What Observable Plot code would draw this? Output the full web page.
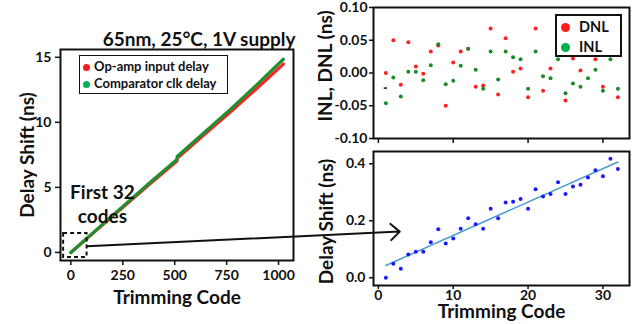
<!DOCTYPE html>
<html><head><meta charset="utf-8">
<script src="https://cdn.jsdelivr.net/npm/d3@7"></script>
<script src="https://cdn.jsdelivr.net/npm/@observablehq/plot@0.6"></script>
<style>
body{margin:0;background:#fff;}
#chart{position:relative;width:640px;height:324px;overflow:hidden;font-family:Lato,"Open Sans",sans-serif;font-weight:bold;color:#111;}
.legend{position:absolute;background:#fff;box-sizing:border-box;}
.item{position:absolute;white-space:nowrap;}
.dot{position:absolute;border-radius:50%;}
</style></head><body><div id="chart"></div>
<script>
// ---------- data ----------
const titleText = "65nm, 25°C, 1V supply";
const yTitleLeft = "Delay Shift (ns)";
const xTitle = "Trimming Code";
const yTitleNL = "INL, DNL (ns)";
const annotText = "First 32\ncodes";
const legendLeft = ["Op-amp input delay", "Comparator clk delay"];
const legendNL = ["DNL", "INL"];

const leftCodes = [0, 128, 256, 384, 511, 512, 640, 768, 896, 1023];
const opampDelay = [0, 1.77, 3.55, 5.32, 7.02, 7.24, 9.03, 10.80, 12.62, 14.48];
const compDelay  = [0, 1.81, 3.62, 5.42, 7.14, 7.38, 9.18, 11.00, 12.90, 14.85];
const leftXTicks = [0, 250, 500, 750, 1000];
const leftYTicks = [0, 5, 10, 15];
const zoomBox = [{x1: -35, x2: 78, y1: -0.38, y2: 1.46}];
const annot = [{x: 152, y: 3.77, t: annotText}];

const codes32 = [1,2,3,4,5,6,7,8,9,10,11,12,13,14,15,16,17,18,19,20,21,22,23,24,25,26,27,28,29,30,31,32];
const dnl = [0.000, 0.050, -0.018, 0.047, 0.010, -0.001, 0.033, 0.042, -0.050, 0.016, 0.033, 0.037, -0.021, -0.019, 0.068, -0.033,
             0.053, 0.002, 0.007, -0.037, 0.068, -0.027, 0.007, 0.045, -0.042, 0.022, 0.004, 0.060, 0.021, -0.021, 0.035, -0.037];
const inl = [-0.046, -0.007, -0.036, 0.002, 0.002, -0.011, 0.012, 0.044, -0.017, -0.012, 0.011, 0.037, 0.005, -0.024, 0.033, -0.010,
             0.033, 0.024, 0.021, -0.024, 0.033, -0.005, -0.008, 0.021, -0.031, -0.016, -0.021, -0.008, 0.005, -0.027, 0.021, -0.024];
const delay32 = [0.000, 0.049, 0.032, 0.082, 0.091, 0.091, 0.125, 0.170, 0.120, 0.138, 0.172, 0.209, 0.188, 0.172, 0.242, 0.209,
                 0.264, 0.267, 0.276, 0.242, 0.311, 0.285, 0.294, 0.335, 0.294, 0.320, 0.326, 0.352, 0.377, 0.356, 0.418, 0.382];
const nlXTicks = [0, 10, 20, 30];
const nlYTicks = [-0.1, -0.05, 0, 0.05, 0.1];
const delayYTicks = [0, 0.2, 0.4];
const dashMark = [{x1: 0.78, x2: 1.22, y: -0.023}];
const arrowFrom = {x: 78, y: 0.48};     // left panel data coords
const arrowTo = {x: 2.85, y: 0.162};    // bottom-right panel data coords

// ---------- build ----------
const font = "Lato, 'Open Sans', sans-serif";
const ink = "#111";
const sty = (l, t) => ({position: "absolute", left: l + "px", top: t + "px", background: "transparent",
  fontFamily: font, fontSize: "14px", fontWeight: "bold", color: ink, overflow: "visible"});

const opData = leftCodes.map((c, i) => ({code: c, v: opampDelay[i]}));
const cmpData = leftCodes.map((c, i) => ({code: c, v: compDelay[i]}));
const dnlData = codes32.map((c, i) => ({code: c, v: dnl[i]}));
const inlData = codes32.map((c, i) => ({code: c, v: inl[i]}));
const delayData = codes32.map((c, i) => ({code: c, v: delay32[i]}));

const left = Plot.plot({
  width: 310, height: 324, marginLeft: 60, marginRight: 17, marginTop: 49, marginBottom: 64,
  x: {domain: [-50, 1072]}, y: {domain: [-0.62, 15.6]},
  style: sty(0, 0),
  marks: [
    Plot.line(opData, {x: "code", y: "v", stroke: "#ff2424", strokeWidth: 3.2}),
    Plot.line(cmpData, {x: "code", y: "v", stroke: "#1f8f30", strokeWidth: 3.2}),
    Plot.text(annot, {x: "x", y: "y", text: "t", fontSize: 19, lineHeight: 1.28, fill: ink}),
    Plot.rect(zoomBox, {x1: "x1", x2: "x2", y1: "y1", y2: "y2", fill: "none", stroke: ink, strokeWidth: 2, strokeDasharray: "4,3"}),
    Plot.frame({stroke: ink, strokeWidth: 2}),
    Plot.axisX({ticks: leftXTicks, tickSize: 5, tickPadding: 5, strokeWidth: 1.5, label: null, tickFormat: d => String(d)}),
    Plot.axisY({ticks: leftYTicks, tickSize: 5, tickPadding: 4, strokeWidth: 1.5, label: null, tickFormat: d => String(d)}),
    Plot.text([titleText], {text: d => d, frameAnchor: "top-right", textAnchor: "end", dx: 2, dy: -17, fontSize: 19, fill: ink}),
    Plot.text([yTitleLeft], {text: d => d, frameAnchor: "left", textAnchor: "middle", rotate: -90, dx: -33, fontSize: 19, fill: ink}),
    Plot.text([xTitle], {text: d => d, frameAnchor: "bottom", dy: 43, fontSize: 19, fill: ink})
  ]
});

const nl = Plot.plot({
  width: 330, height: 145, marginLeft: 63, marginRight: 11, marginTop: 7, marginBottom: 7,
  x: {domain: [-0.65, 33.55]}, y: {domain: [-0.1, 0.1]},
  style: sty(310, 0),
  marks: [
    Plot.dot(dnlData, {x: "code", y: "v", r: 2, fill: "#ff2020"}),
    Plot.dot(inlData, {x: "code", y: "v", r: 2, fill: "#1a8c2a"}),
    Plot.ruleY(dashMark, {x1: "x1", x2: "x2", y: "y", stroke: ink, strokeWidth: 1.5}),
    Plot.frame({stroke: ink, strokeWidth: 2}),
    Plot.axisX({ticks: nlXTicks, tickSize: 5, strokeWidth: 1.5, label: null, tickFormat: () => ""}),
    Plot.axisY({ticks: nlYTicks, tickSize: 4, tickPadding: 2, strokeWidth: 1.5, label: null, tickFormat: d => d.toFixed(2)}),
    Plot.text([yTitleNL], {text: d => d, frameAnchor: "left", textAnchor: "middle", rotate: -90, dx: -48, dy: -7, fontSize: 19, fill: ink})
  ]
});

const dl = Plot.plot({
  width: 330, height: 179, marginLeft: 63, marginRight: 11, marginTop: 6, marginBottom: 39,
  x: {domain: [-0.65, 33.55]}, y: {domain: [-0.027, 0.443]},
  style: sty(310, 145),
  marks: [
    Plot.linearRegressionY(delayData, {x: "code", y: "v", stroke: "#4a9bd0", strokeWidth: 1.5, ci: 0}),
    Plot.dot(delayData, {x: "code", y: "v", r: 2, fill: "#1a1aff"}),
    Plot.frame({stroke: ink, strokeWidth: 2}),
    Plot.axisX({ticks: nlXTicks, tickSize: 4, tickPadding: 1, strokeWidth: 1.5, label: null, tickFormat: d => String(d)}),
    Plot.axisY({ticks: delayYTicks, tickSize: 4, tickPadding: 4, strokeWidth: 1.5, label: null, tickFormat: d => d.toFixed(1)}),
    Plot.text([yTitleLeft], {text: d => d, frameAnchor: "left", textAnchor: "middle", rotate: -90, dx: -47, dy: 3, fontSize: 19, fill: ink}),
    Plot.text([xTitle], {text: d => d, frameAnchor: "bottom", dy: 32, fontSize: 19, fill: ink})
  ]
});

const chart = document.getElementById("chart");
chart.append(left, nl, dl);

// legends
function legend(box, items, colors, dotD, fs, rows, textX, dotX, borderW) {
  const b = document.createElement("div");
  b.className = "legend";
  Object.assign(b.style, {left: box[0] + "px", top: box[1] + "px", width: box[2] + "px", height: box[3] + "px", border: borderW + "px solid #111"});
  chart.append(b);
  items.forEach((t, i) => {
    const d = document.createElement("div");
    d.className = "dot";
    Object.assign(d.style, {left: (dotX - dotD / 2) + "px", top: (rows[i] - dotD / 2) + "px", width: dotD + "px", height: dotD + "px", background: colors[i]});
    chart.append(d);
    const s = document.createElement("div");
    s.className = "item";
    s.textContent = t;
    Object.assign(s.style, {left: textX + "px", top: (rows[i] - fs * 0.6) + "px", fontSize: fs + "px", lineHeight: (fs * 1.2) + "px"});
    chart.append(s);
  });
}
legend([79, 55, 149, 39], legendLeft, ["#ff1a1a", "#00b050"], 7, 13, [67, 84], 94, 86, 1.5);
legend([555, 14, 67, 43], legendNL, ["#ff1a1a", "#00b050"], 9, 14.5, [27, 47], 579, 565, 2);

// connecting arrow, endpoints from the panels' scales
const ax1 = left.scale("x").apply(arrowFrom.x), ay1 = left.scale("y").apply(arrowFrom.y);
const ax2 = dl.scale("x").apply(arrowTo.x) + 310, ay2 = dl.scale("y").apply(arrowTo.y) + 145;
const overlay = Plot.plot({
  width: 640, height: 324, margin: 0,
  x: {domain: [0, 640], axis: null}, y: {domain: [324, 0], axis: null},
  style: Object.assign(sty(0, 0), {pointerEvents: "none"}),
  marks: [
    Plot.arrow([{x1: ax1, y1: ay1, x2: ax2, y2: ay2}], {x1: "x1", y1: "y1", x2: "x2", y2: "y2", stroke: ink, strokeWidth: 2, headLength: 9, headAngle: 85})
  ]
});
chart.append(overlay);
</script></body></html>
